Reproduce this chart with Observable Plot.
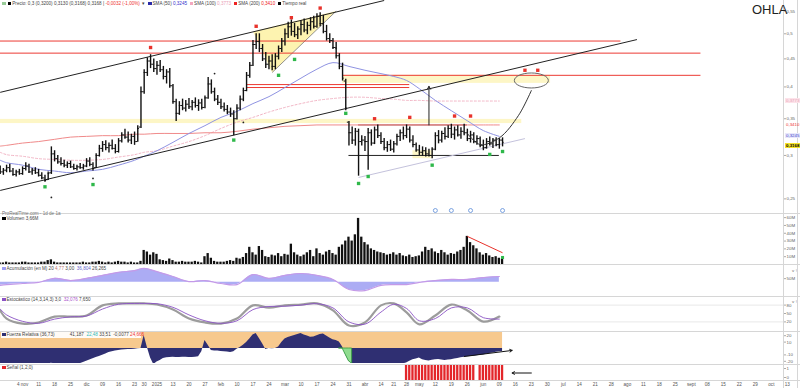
<!DOCTYPE html>
<html><head><meta charset="utf-8">
<script src="https://cdn.jsdelivr.net/npm/d3@7"></script>
<script src="https://cdn.jsdelivr.net/npm/@observablehq/plot@0.6"></script>
<style>
body{margin:0;background:#fff;font-family:"Liberation Sans",Arial,sans-serif;}
#wrap{position:relative;width:800px;height:388px;overflow:hidden;background:#fff}
.hl{position:absolute;left:0;width:800px;height:0;border-top:1px solid #d6d6d6}
.vl{position:absolute;top:0;height:388px;width:0;border-left:1px solid #d6d6d6}
.lg{position:absolute;font-size:4.6px;color:#444;white-space:nowrap;line-height:6px;padding:0 1px;background:rgba(255,255,255,0.92)}
.sq{display:inline-block;width:3.5px;height:3.5px;margin-right:1px;vertical-align:-0.3px}
.rl{position:absolute;left:785px;font-size:4.4px;line-height:5px;padding:0 1px;white-space:nowrap}
</style></head><body><div id="wrap"></div><script>
// ---------- data (prices in thousandths of EUR) ----------
const holidays = ["2024-12-25","2024-12-26","2025-01-01","2025-04-18","2025-04-21","2025-05-01"];
const open = [283,280,282,285,281,277,280,278,284,287,280,282,279,276,273,271,279,302,296,292,290,288,290,286,284,286,285,287,293,289,285,300,309,314,310,313,309,305,319,327,324,320,325,318,338,392,425,446,440,432,438,430,418,426,402,376,358,370,366,372,368,375,370,374,367,382,405,392,380,375,368,364,360,357,350,366,380,394,420,438,478,484,470,450,440,446,436,455,470,485,500,515,505,498,510,520,508,518,526,516,538,522,505,490,486,472,456,436,410,345,330,320,332,318,320,318,330,316,334,326,318,310,314,308,315,325,330,326,335,320,314,307,304,306,302,300,308,326,320,329,325,336,328,334,327,332,330,322,327,318,322,313,310,318,315,320,314,320];
const high = [287,284,288,289,284,282,283,286,291,289,284,285,283,279,276,280,311,306,300,297,294,292,293,289,288,290,289,296,297,291,302,313,318,319,316,320,314,322,330,335,331,328,331,340,400,430,452,458,450,445,447,436,430,432,404,380,376,380,378,381,378,382,379,380,385,416,412,398,386,380,374,370,366,362,371,385,398,425,443,486,500,500,478,462,455,458,460,475,490,510,525,530,522,515,528,532,525,535,538,544,546,540,518,500,490,482,460,442,413,346,338,336,335,326,325,336,334,338,341,330,322,318,320,318,328,334,338,341,338,326,316,313,311,310,308,310,330,333,332,337,340,342,338,340,337,342,335,332,330,326,324,320,322,324,322,323,322,323];
const low = [277,276,279,279,275,274,276,276,281,278,276,277,274,271,268,270,277,292,289,287,285,284,284,282,281,283,282,285,286,281,284,298,304,306,303,307,302,303,316,321,316,314,313,317,336,388,418,432,425,420,425,412,405,398,372,346,355,362,360,364,362,366,361,363,365,380,388,376,370,364,360,356,352,326,348,362,376,392,415,436,468,462,445,432,430,428,430,448,462,475,490,495,492,488,496,502,498,506,510,512,515,500,485,480,468,450,430,410,362,312,314,312,275,312,305,282,312,314,322,314,306,304,305,303,312,318,320,322,316,310,304,300,299,298,298,296,306,315,316,320,322,322,320,324,321,326,318,316,315,313,310,306,308,312,309,311,308,311];
const close = [280,282,285,281,277,280,278,284,287,280,282,279,276,273,270,278,302,296,292,290,288,290,286,284,286,285,287,293,289,284,300,309,314,310,313,309,305,319,327,324,320,325,318,336,392,425,446,440,432,438,430,418,426,402,376,358,370,366,372,368,375,370,374,367,382,405,392,380,375,368,364,360,357,350,366,380,394,420,438,478,484,470,450,440,446,436,455,470,485,500,515,505,498,510,520,508,518,526,516,538,522,505,490,486,472,456,436,415,366,330,320,332,318,320,318,330,316,334,326,318,310,314,308,315,325,330,326,335,320,314,307,304,306,302,300,308,326,320,329,325,336,328,334,327,332,330,322,327,318,322,313,310,318,315,320,314,320,317];
const volume = [2,2,3,2,2,2,2,3,3,2, 2,2,2,3,3,5,6,3,2,2, 2,2,2,2,2,2,3,2,2,3, 3,4,3,2,3,2,3,4,3,3, 2,3,2,2,4,
  18,16,12,15,13,
  6,5,4,7,5, 3,3,4,3,3, 3,4,3,2,10, 14,8,4,3,3, 3,4,5,4,8,
  7,9,14,22,15, 12,23,18,10,9, 12,11,14,10,13, 12,26,15,12,10,
  12,15,18,10,20, 14,12,16,18,14, 12,22,25,30,35,
  30,38,59,35,28, 25,20,18,16,15, 14,
  12,13,15,12,14, 11,10,12,9,10, 11,16,22,18,
  20,16,14,18,15, 12,14,13,16,18, 22,
  36,
  28,24,20,15,12, 14,11,9,10,8, 7];
const elder = [-98,-100,-100,-99,-100,-100,-100,-98,-100,-100,-100,-100,-100,-100,-100,-96,-92,-95,-98,-100,-100,-100,-100,-100,-98,-95,
  -87,-80,-72,-64,-57,-50,-42,-35,-25,-20,-16,-12,-10,-8,-7,-6,-4,-2,0,
  81,6,-60,-100,-85,-75,
  -62,-58,-56,-55,-57,-56,-54,-55,-56,-57,-55,-52,
  -20,50,20,-12,
  -15,-16,-18,-20,-22,-25,-20,
  -5,6,20,37,60,85,94,62,30,-6,
  0,-2,0,10,37,
  60,69,75,82,88,94,
  85,78,70,72,80,88,90,78,65,55,50,40,
  10,-40,-80,
  -95,-100,-100,-100,-100,-100,-100,-98,-100,-100,-100,-97,-95,-98,-100,-100,-96,-90,-80,-70,-65,-60,
  -70,-75,-78,-74,-70,-68,-72,-75,-72,-70,-66,-62,
  -58,-55,-52,-50,-48,-45,-42,-40,-36,-32,-28,-24,-20,-18];
// weekly series (first trading day of each week)
const smaBlue = [294,291,288,283,281,279,281,283,288,294,299,306,317,329,340,352,361,373,384,399,415,431,443,436,429,423,418,411,397,378,362,347,333,325];
const smaPink = [304,301,299,296,295,294,294,295,298,301,304,306,312,318,326,336,345,352,360,367,373,378,381,383,383,381,380,378,378,377,377,377,377,377];
const smaRed  = [312,313,316,318,321,324,325,326,326,328,328,329,329,329,330,330,332,335,337,339,340,341,341,341,341,341,341,341,341,341,341,341,341,341];
const accum   = [30,33,37,41,56,48,56,67,78,85,93,81,63,44,48,37,33,70,56,67,74,67,52,15,11,30,33,33,41,48,52,52,59,63];
const stochK  = [61,32,14,18,39,39,43,79,86,86,86,82,64,32,18,14,32,79,71,79,82,86,61,7,18,79,86,54,11,43,82,61,21,39];
const stochD  = [66,45,22,15,30,38,41,66,83,86,86,85,72,45,24,15,24,64,75,76,80,85,70,20,12,55,83,68,24,32,70,70,35,30];
const tickLabels = ["4 nov","11","18","25","dic","09","16","23","30","2025","13","20","27","feb","10","17","24","mar","10","17","24","31","abr","14","21","28","may","12","19","26","jun","09","16","23","30","jul","14","21","28","ago","11","18","25","sept","08","15","22","29","oct","13"];
const priceTicks = [0.25,0.3,0.35,0.4,0.45,0.5,0.55];
const volTicks = [10,20,30,40,50,60];
const stochTicks = [20,50,80];
// drawn studies (date, price)
const channels = [{from:"2024-10-24",p1:0.391,to:"2025-04-15",p2:0.575},{from:"2024-10-24",p1:0.259,to:"2025-08-07",p2:0.488}];
const redLevels = [{from:"2024-10-24",to:"2025-07-31",price:0.485},{from:"2024-10-24",to:"2025-09-04",price:0.461},{from:"2025-02-13",to:"2025-04-29",price:0.404},{from:"2025-02-13",to:"2025-04-29",price:0.399},{from:"2025-03-27",to:"2025-09-04",price:0.420}];
const yellowZones = [{from:"2024-10-24",to:"2025-06-18",lo:0.343,hi:0.349},{from:"2025-03-27",to:"2025-07-01",lo:0.406,hi:0.420},{from:"2025-04-30",to:"2025-05-09",lo:0.296,hi:0.306}];
const rangeTop = [{from:"2025-04-03",to:"2025-05-26",price:0.341}];
const rangeBottom = [{from:"2025-03-31",to:"2025-06-09",price:0.300}];
const supportLine = [{from:"2025-04-03",p1:0.2735,to:"2025-06-19",p2:0.322}];
const triangle = [{d:"2025-02-17",p:0.505},{d:"2025-03-25",p:0.550},{d:"2025-02-25",p:0.425}];
const targetArrow = [{d:"2025-05-08",p1:0.341,p2:0.401}];
const pathCurve = [{d:"2025-05-26",p:0.329},{d:"2025-05-30",p:0.314},{d:"2025-06-09",p:0.323},{d:"2025-06-17",p:0.355},{d:"2025-06-23",p:0.394}];
const target = [{d:"2025-06-23",p:0.411}];
const topSignals = [{d:"2025-01-02",p:0.472},{d:"2025-02-18",p:0.516},{d:"2025-03-05",p:0.535},{d:"2025-03-18",p:0.557},{d:"2025-04-10",p:0.350},{d:"2025-04-29",p:0.352},{d:"2025-05-20",p:0.354},{d:"2025-05-27",p:0.354},{d:"2025-06-19",p:0.429},{d:"2025-06-25",p:0.429}];
const bottomSignals = [{d:"2024-11-13",p:0.263},{d:"2024-12-04",p:0.2655},{d:"2025-02-07",p:0.320},{d:"2025-02-27",p:0.420},{d:"2025-03-06",p:0.449},{d:"2025-03-28",p:0.358},{d:"2025-04-03",p:0.2667},{d:"2025-04-08",p:0.2746},{d:"2025-05-09",p:0.288},{d:"2025-06-04",p:0.3013},{d:"2025-06-10",p:0.305}];
const dotSignals = [{d:"2024-11-15",p:0.2515},{d:"2024-12-04",p:0.2724},{d:"2025-01-30",p:0.423},{d:"2025-02-12",p:0.3446},{d:"2025-03-25",p:0.4707}];
const events = ["2025-05-12","2025-05-19","2025-05-27","2025-06-10"];
const lastValues = {sma100:0.3773, sma200:0.3410, sma50:0.3245, price:0.3168};
const volTrend = [{from:"2025-05-26",v1:36,to:"2025-06-10",v2:15}];
const elderArrow = [{from:"2025-05-23",v1:-50,to:"2025-06-13",v2:-12}];
const elderHighlight = ["2025-03-26","2025-04-01"];
const signalRanges = [["2025-04-28","2025-05-28"],["2025-05-30","2025-06-10"]];
const signalArrow = [{from:"2025-06-23",to:"2025-06-13"}];

// ---------- helpers ----------
const fmt = d3.utcFormat("%Y-%m-%d");
const days = d3.utcDays(new Date("2024-10-24"), new Date("2025-11-01")).filter(d => d.getUTCDay() % 6 !== 0 && !holidays.includes(fmt(d)));
const dayStr = days.map(fmt);
const ix = s => { const i = dayStr.findIndex(d => d >= s); return i < 0 ? days.length - 1 : i; };
const N = close.length;
const bars = d3.range(N).map(i => ({i, o:open[i]/1000, h:high[i]/1000, l:low[i]/1000, c:close[i]/1000, v:volume[i], e:elder[i]}));
const weekStarts = []; { let prev = null; for (let i = 0; i < N; i++) { const w = fmt(d3.utcMonday.floor(days[i])); if (w !== prev) { weekStarts.push(i); prev = w; } } }
const wk = (arr, f = 1) => weekStarts.map((i, k) => ({i, v: arr[k] / f})).filter(d => d.v !== undefined && !isNaN(d.v));
const mondays = d3.utcMonday.range(new Date("2024-11-04"), new Date("2025-10-14"));
const ticks = mondays.map((m, k) => ({i: ix(fmt(m)), t: tickLabels[k]})).filter(d => d.t);
const signalDays = d3.range(N).filter(i => signalRanges.some(([a, b]) => dayStr[i] >= a && dayStr[i] <= b)).map(i => ({i}));
const hiBars = bars.slice(ix(elderHighlight[0]), ix(elderHighlight[1]) + 1);

const wrap = document.getElementById("wrap");
const XS = {domain:[0.1, 244.8], range:[0, 783], axis:null};
const STY = {background:"transparent", overflow:"visible", fontFamily:"Liberation Sans, Arial, sans-serif"};
function place(svg, top) { svg.style.position = "absolute"; svg.style.left = "0px"; svg.style.top = top + "px"; wrap.appendChild(svg); return svg; }
const comma = d => String(d).replace(".", ",");
const axisR = (t, f) => Plot.axisY(t, {anchor:"right", tickSize:2, tickPadding:1, fontSize:4.4, tickFormat:f, stroke:"#aaa", fill:"#666"});

// ellipse symbol for target zone
const ellipse = {draw(ctx) { const rx = 17, ry = 7.5, k = 0.5523;
  ctx.moveTo(rx, 0); ctx.bezierCurveTo(rx, ry*k, rx*k, ry, 0, ry); ctx.bezierCurveTo(-rx*k, ry, -rx, ry*k, -rx, 0);
  ctx.bezierCurveTo(-rx, -ry*k, -rx*k, -ry, 0, -ry); ctx.bezierCurveTo(rx*k, -ry, rx, -ry*k, rx, 0); ctx.closePath(); }};

// ---------- price panel ----------
const price = place(Plot.plot({
  width:800, height:212, marginLeft:0, marginRight:17, marginTop:0, marginBottom:0, style:STY,
  x:XS, y:{type:"log", domain:[0.2361, 0.575], range:[212, 0], axis:null},
  marks:[
    Plot.rect(yellowZones, {x1:d=>ix(d.from), x2:d=>ix(d.to), y1:"lo", y2:"hi", fill:"#fdf4b8", fillOpacity:0.8}),
    Plot.line(triangle, {x:d=>ix(d.d), y:"p", fill:"#fdf3b0", stroke:"none"}),
    Plot.link([triangle[2]], {x1:d=>ix(d.d), y1:"p", x2:ix(triangle[1].d), y2:triangle[1].p, stroke:"#777", strokeWidth:0.8}),
    Plot.ruleY(redLevels, {y:"price", x1:d=>ix(d.from), x2:d=>ix(d.to), stroke:"#ec3a33", strokeWidth:1}),
    Plot.ruleY(rangeTop, {y:"price", x1:d=>ix(d.from), x2:d=>ix(d.to), stroke:"#8a3030", strokeWidth:1}),
    Plot.ruleY(rangeBottom, {y:"price", x1:d=>ix(d.from), x2:d=>ix(d.to), stroke:"#222", strokeWidth:1}),
    Plot.line(wk(smaPink, 1000), {x:"i", y:"v", stroke:"#f2b5c5", strokeWidth:1, strokeDasharray:"2,2", curve:"catmull-rom"}),
    Plot.line(wk(smaRed, 1000), {x:"i", y:"v", stroke:"#f08a8a", strokeWidth:1, curve:"catmull-rom"}),
    Plot.line(wk(smaBlue, 1000), {x:"i", y:"v", stroke:"#8f93e2", strokeWidth:1, curve:"catmull-rom"}),
    Plot.link(channels, {x1:d=>ix(d.from), y1:"p1", x2:d=>ix(d.to), y2:"p2", stroke:"#222", strokeWidth:1, clip:true}),
    Plot.link(supportLine, {x1:d=>ix(d.from), y1:"p1", x2:d=>ix(d.to), y2:"p2", stroke:"#c4c2dc", strokeWidth:1}),
    Plot.ruleX(bars, {x:"i", y1:"l", y2:"h", stroke:"#111", strokeWidth:1.4}),
    Plot.ruleY(bars, {y:"o", x1:d=>d.i-0.5, x2:"i", stroke:"#111", strokeWidth:1}),
    Plot.ruleY(bars, {y:"c", x1:"i", x2:d=>d.i+0.5, stroke:"#111", strokeWidth:1}),
    Plot.arrow(targetArrow, {x1:d=>ix(d.d), y1:"p1", x2:d=>ix(d.d), y2:"p2", stroke:"#222", strokeWidth:1, headLength:5}),
    Plot.line(pathCurve, {x:d=>ix(d.d), y:"p", stroke:"#333", strokeWidth:1, curve:"catmull-rom"}),
    Plot.dot(target, {x:d=>ix(d.d), y:"p", symbol:ellipse, stroke:"#666", strokeWidth:1, fill:"none"}),
    Plot.dot(topSignals, {x:d=>ix(d.d), y:"p", symbol:"square", r:1.9, fill:"#e8322b"}),
    Plot.dot(bottomSignals, {x:d=>ix(d.d), y:"p", symbol:"square", r:1.9, fill:"#2fb84a"}),
    Plot.dot(dotSignals, {x:d=>ix(d.d), y:"p", r:0.9, fill:"#222"}),
    Plot.dot(events, {x:d=>ix(d), frameAnchor:"bottom", dy:-2, r:2, stroke:"#5b8bd8", fill:"#fff", strokeWidth:0.8}),
    axisR(priceTicks, comma)
  ]}), 0);

// ---------- volume panel ----------
place(Plot.plot({
  width:800, height:51, marginLeft:0, marginRight:17, marginTop:0, marginBottom:0, style:STY,
  x:XS, y:{domain:[0, 64], range:[51, 1], axis:null},
  marks:[
    Plot.rect(bars, {x1:d=>d.i-0.36, x2:d=>d.i+0.36, y1:0, y2:"v", fill:"#111"}),
    Plot.link(volTrend, {x1:d=>ix(d.from), y1:"v1", x2:d=>ix(d.to), y2:"v2", stroke:"#e8322b", strokeWidth:1}),
    Plot.dot([bars[N-1]], {x:"i", y:d=>d.v+2, symbol:"square", r:1.7, fill:"#2fb84a"}),
    axisR(volTicks, d => d + "M")
  ]}), 213);

// ---------- accumulation panel ----------
place(Plot.plot({
  width:800, height:30, marginLeft:0, marginRight:17, marginTop:0, marginBottom:0, style:STY,
  x:XS, y:{domain:[0, 100], range:[28, 1], axis:null},
  marks:[
    Plot.areaY(wk(accum), {x:"i", y1:42, y2:"v", fill:"#9d9ef2", fillOpacity:0.85, curve:"catmull-rom"}),
    Plot.line(wk(accum), {x:"i", y:"v", stroke:"#c49ae8", strokeWidth:1.2, curve:"catmull-rom"}),
    axisR([55], () => "50M")
  ]}), 265);

// ---------- stochastic panel ----------
place(Plot.plot({
  width:800, height:34, marginLeft:0, marginRight:17, marginTop:0, marginBottom:0, style:STY,
  x:XS, y:{domain:[0, 100], range:[31, 3], axis:null},
  marks:[
    Plot.ruleY([20, 80], {stroke:"#e2e2e2", strokeWidth:0.8}),
    Plot.line(wk(stochK), {x:"i", y:"v", stroke:"#9c9c9c", strokeWidth:2.2, curve:"catmull-rom"}),
    Plot.line(wk(stochD), {x:"i", y:"v", stroke:"#8a52c4", strokeWidth:0.9, curve:"catmull-rom"}),
    axisR(stochTicks, d => d)
  ]}), 296);

// ---------- elder panel ----------
place(Plot.plot({
  width:800, height:32, marginLeft:0, marginRight:17, marginTop:0, marginBottom:0, style:STY,
  x:XS, y:{domain:[-100, 100], range:[33, 1], axis:null},
  marks:[
    Plot.rect([bars[0]], {x1:0, x2:N-1, y1:0, y2:100, fill:"#f7c98e"}),
    Plot.areaY(bars, {x:"i", y1:0, y2:"e", fill:"#2f2f72", clip:true}),
    Plot.areaY(hiBars, {x:"i", y1:0, y2:d => Math.min(0, d.e), fill:"#8fdc8f", stroke:"#2f9a3a", strokeWidth:0.8, clip:true}),
    Plot.arrow(elderArrow, {x1:d=>ix(d.from), y1:"v1", x2:d=>ix(d.to), y2:"v2", stroke:"#111", strokeWidth:1, headLength:4}),
    axisR([-80, -40, 40, 80], d => d / 4)
  ]}), 331);

// ---------- signal panel ----------
place(Plot.plot({
  width:800, height:16, marginLeft:0, marginRight:17, marginTop:0, marginBottom:0, style:STY,
  x:XS, y:{domain:[0, 1], range:[16, 1], axis:null},
  marks:[
    Plot.rect(signalDays, {x1:d=>d.i-0.36, x2:d=>d.i+0.36, y1:0, y2:1, fill:"#e3262a"}),
    Plot.arrow(signalArrow, {x1:d=>ix(d.from), y1:0.5, x2:d=>ix(d.to), y2:0.5, stroke:"#111", strokeWidth:1, headLength:4}),
    axisR([0.2, 0.8], d => d < 0.5 ? "0" : "1")
  ]}), 364);

// ---------- time axis ----------
place(Plot.plot({
  width:800, height:8, marginLeft:0, marginRight:17, marginTop:0, marginBottom:0, style:STY,
  x:XS, y:{domain:[0, 1], axis:null},
  marks:[ Plot.text(ticks, {x:"i", text:"t", fontSize:4.6, fill:"#555", frameAnchor:"middle"}) ]
}), 380);

// ---------- separators, legends, labels ----------
[212.5, 264, 295.5, 330.5, 363.5, 380].forEach(y => { const d = document.createElement("div"); d.className = "hl"; d.style.top = y + "px"; wrap.appendChild(d); });
[783, 797].forEach(x => { const d = document.createElement("div"); d.className = "vl"; d.style.left = x + "px"; wrap.appendChild(d); });
function html(s) { wrap.insertAdjacentHTML("beforeend", s); }
html(`<div class="lg" style="left:1px;top:1px;background:none"><span class="sq" style="background:#9c9"></span> <span class="sq" style="background:#000"></span>Precio: 0,3 (0,3200) 0,3130 (0,3168) 0,3168 | <span style="color:#e33">-0,0032 (-1,00%)</span> &nbsp;▾ &nbsp;<span class="sq" style="background:#2b2ba8"></span>SMA (50) <span style="color:#33c">0,3245</span> &nbsp;<span class="sq" style="background:#f4a8c0"></span>SMA (100) <span style="color:#e9a0b8">0,3773</span> &nbsp;<span class="sq" style="background:#e22"></span>SMA (200) <span style="color:#e22">0,3410</span> &nbsp;<span class="sq" style="background:#000"></span>Tiempo real</div>`);
html(`<div style="position:absolute;left:752px;top:2px;font-size:13px;color:#222;font-family:'Liberation Sans',Arial">OHLA</div>`);
html(`<div class="lg" style="left:1px;top:211px;background:none;color:#777">ProRealTime.com - 1d de 1a</div>`);
html(`<div class="lg" style="left:1px;top:216px"><span class="sq" style="background:#000"></span>Volumen 3,66M</div>`);
html(`<div class="lg" style="left:1px;top:266px"><span class="sq" style="background:#9d9ef2"></span>Acumulación (en M) 20 <span style="color:#b77">4,77</span> 3,00 &nbsp;<span style="color:#66c">36,804</span> 26,265</div>`);
html(`<div class="lg" style="left:1px;top:297px"><span class="sq" style="background:#8a52c4"></span>Estocástico (14,3,14,3) 3,0 &nbsp;<span style="color:#a5c">32,076</span> 7,650</div>`);
html(`<div class="lg" style="left:1px;top:332px;width:138px"><span class="sq" style="background:#2f2f72"></span>Fuerza Relativa (36,73) &nbsp;&nbsp;&nbsp;&nbsp;&nbsp;&nbsp;&nbsp;&nbsp;&nbsp;&nbsp;&nbsp;41,187 &nbsp;<span style="color:#3bb">22,48</span> 33,51 &nbsp;-0,0077 <span style="color:#e33">24,666</span></div>`);
html(`<div class="lg" style="left:1px;top:365px"><span class="sq" style="background:#e3262a"></span>Señal (1,2,0)</div>`);
const ys = price.scale("y");
const lab = (v, css, txt, dy = -2.5) => html(`<div class="rl" style="top:${ys.apply(v) + dy}px;${css}">${txt}</div>`);
lab(lastValues.sma100, "background:#fde3ea;color:#e7a3b6", "0,3773");
lab(lastValues.sma200, "color:#e33", "0,3410");
lab(lastValues.sma50, "background:#e8e8fb;color:#44c", "0,3245", -3.5);
lab(lastValues.price, "background:#f6e32a;color:#000;font-weight:bold", "0,3168", 1);
</script></body></html>
